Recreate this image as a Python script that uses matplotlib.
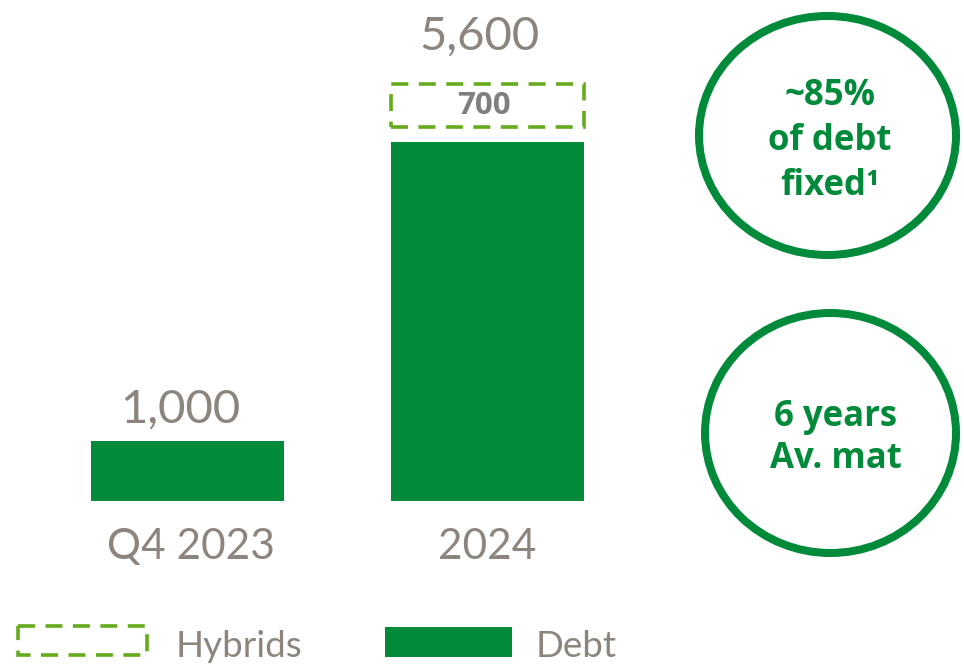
import numpy as np
import matplotlib
matplotlib.use("Agg")
import matplotlib.pyplot as plt
from matplotlib.patches import Ellipse, Rectangle

# ---- data ----
categories = ["Q4 2023", "2024"]
debt = [1000, 4900]
hybrids = [0, 700]
totals = [d + h for d, h in zip(debt, hybrids)]
value_labels = ["1,000", "5,600"]
hybrid_labels = ["", "700"]
legend_labels = ["Hybrids", "Debt"]
circle_texts = [["~85%", "of debt", "fixed¹"], ["6 years", "Av. mat"]]

# ---- style ----
GREEN = "#008A3A"
LGREEN = "#66AB1E"
GRAY = "#8C857E"
DGRAY = "#7F7F7F"
plt.rcParams["font.family"] = ["Lato", "DejaVu Sans"]
BOLD_FONT = ["Open Sans", "DejaVu Sans"]

W, H, DPI = 964, 664, 100
fig = plt.figure(figsize=(W / DPI, H / DPI), dpi=DPI)

# bar axes: baseline at pixel y=501, top at pixel 0; x from 0..680 px
base_px = 501
ax = fig.add_axes([0, (H - base_px) / H, 680 / W, base_px / H])
p = 1.125
ax.set_yscale("function", functions=(lambda v: np.sign(v) * np.abs(v) ** p,
                                     lambda v: np.sign(v) * np.abs(v) ** (1 / p)))
ax.set_ylim(0, 6594)
ax.set_xlim(-0.625, 1.642)
ax.axis("off")

x = np.arange(len(categories))
bw = 0.643
ax.bar(x, debt, width=bw, color=GREEN, zorder=2)

# hybrids: dashed box, separated from debt bar by a small gap
gap_px = 15
for i in range(len(categories)):
    if hybrids[i] <= 0:
        continue
    y_disp = ax.transData.transform((0, debt[i]))[1] + gap_px
    y0 = ax.transData.inverted().transform((0, y_disp))[1]
    ax.bar(x[i], totals[i] - y0, bottom=y0, width=bw, fill=False,
           edgecolor=LGREEN, linewidth=2.6, linestyle=(0, (4.7, 2.9)), zorder=3)
    ymid_disp = (y_disp + ax.transData.transform((0, totals[i]))[1]) / 2
    ymid = ax.transData.inverted().transform((0, ymid_disp))[1]
    ax.text(x[i] - 0.01, ymid, hybrid_labels[i], ha="center", va="center",
            fontsize=22.5, fontweight="bold", color=DGRAY, family=BOLD_FONT)

label_offsets = [13, 24.5]
for i in range(len(categories)):
    ax.annotate(value_labels[i], xy=(x[i], totals[i]), xytext=(-5.4, label_offsets[i]),
                textcoords="offset points", ha="center", va="baseline",
                fontsize=34, color=GRAY, annotation_clip=False)
    ax.annotate(categories[i], xy=(x[i], 0), xytext=(2.5 if i == 0 else 0, -42),
                textcoords="offset points", ha="center", va="baseline",
                fontsize=30.5, color=GRAY, annotation_clip=False)

# overlay axes in pixel coordinates for circles and legend
ov = fig.add_axes([0, 0, 1, 1], zorder=-1)
ov.set_xlim(0, W)
ov.set_ylim(H, 0)
ov.axis("off")

lw_circ = 8 * 72 / DPI
ov.add_patch(Ellipse((827.5, 135.5), 257, 239, fill=False, edgecolor=GREEN, linewidth=lw_circ))
ov.add_patch(Ellipse((830.5, 433), 251, 240, fill=False, edgecolor=GREEN, linewidth=lw_circ))

for txt, yb in zip(circle_texts[0], [105, 150, 195]):
    ov.text(830, yb, txt, ha="center", va="baseline", fontsize=25,
            fontweight="bold", color=GREEN, family=BOLD_FONT)
for txt, yb in zip(circle_texts[1], [426, 468]):
    ov.text(836, yb, txt, ha="center", va="baseline", fontsize=25,
            fontweight="bold", color=GREEN, family=BOLD_FONT)

# legend
ov.add_patch(Rectangle((18, 626), 129, 29, fill=False, edgecolor=LGREEN,
                       linewidth=2.6, linestyle=(0, (4.7, 2.9))))
ov.add_patch(Rectangle((385, 627), 127, 30, facecolor=GREEN, edgecolor="none"))
ov.text(176, 657, legend_labels[0], ha="left", va="baseline", fontsize=26.5, color=GRAY)
ov.text(536, 657, legend_labels[1], ha="left", va="baseline", fontsize=26.5, color=GRAY)

fig.savefig("out.png", dpi=DPI)
